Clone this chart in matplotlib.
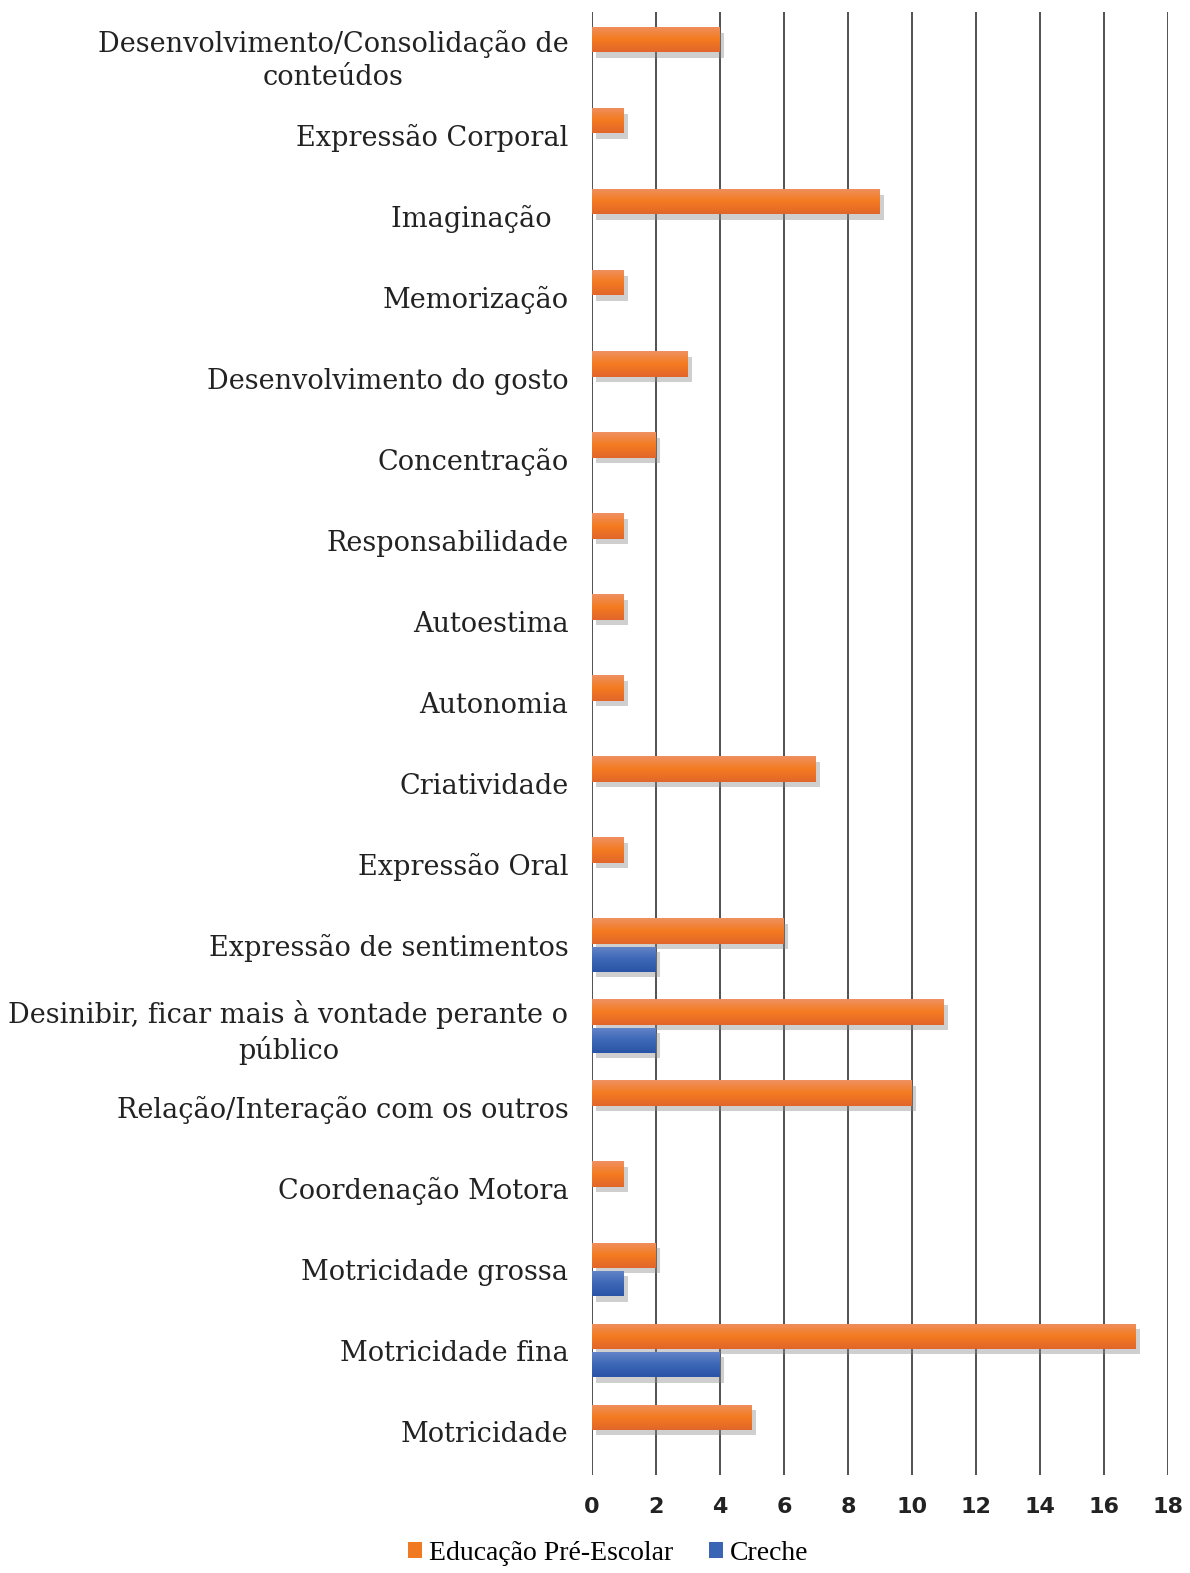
import numpy as np
import matplotlib.pyplot as plt
import matplotlib.transforms as mtransforms
from matplotlib import patheffects as pe
from matplotlib.colors import LinearSegmentedColormap
from matplotlib.patches import Patch

categories = [
    "Desenvolvimento/Consolidação de\nconteúdos",
    "Expressão Corporal",
    "Imaginação  ",
    "Memorização",
    "Desenvolvimento do gosto",
    "Concentração",
    "Responsabilidade",
    "Autoestima",
    "Autonomia",
    "Criatividade",
    "Expressão Oral",
    "Expressão de sentimentos",
    "Desinibir, ficar mais à vontade perante o\npúblico",
    "Relação/Interação com os outros",
    "Coordenação Motora",
    "Motricidade grossa",
    "Motricidade fina",
    "Motricidade",
]
pre_escolar = [4, 1, 9, 1, 3, 2, 1, 1, 1, 7, 1, 6, 11, 10, 1, 2, 17, 5]
creche = [0, 0, 0, 0, 0, 0, 0, 0, 0, 0, 0, 2, 2, 0, 0, 1, 4, 0]
x_ticks = [0, 2, 4, 6, 8, 10, 12, 14, 16, 18]

series = [
    ("Educação Pré-Escolar", pre_escolar, "#F07A22", ["#EF9060", "#F47B20", "#E2662A"]),
    ("Creche", creche, "#3A64B4", ["#6585CA", "#3D68B6", "#2A55A6"]),
]

fig = plt.figure(figsize=(11.9, 15.73), dpi=100)
ax = fig.add_axes([0.4975, 0.0623, 0.4840, 0.9301])

y = np.arange(len(categories))
bar_h = 0.31
offsets = [-0.175, 0.175]

shadow = [pe.SimplePatchShadow(offset=(3, -4), shadow_rgbFace="#888888", alpha=0.4), pe.Normal()]
for (name, vals, col, grad), off in zip(series, offsets):
    bars = ax.barh(y + off, vals, height=bar_h, color=col, zorder=3, path_effects=shadow)
    cmap = LinearSegmentedColormap.from_list(name, grad)
    # vertical gradient on each bar, like the office-style bevel
    for rect in bars:
        if rect.get_width() <= 0:
            continue
        x0, y0 = rect.get_x(), rect.get_y()
        im = ax.imshow(np.linspace(0, 1, 50).reshape(-1, 1), cmap=cmap, aspect="auto",
                       extent=(x0, x0 + rect.get_width(), y0 + rect.get_height(), y0),
                       zorder=4, interpolation="bilinear")
        im.set_clip_path(rect)

ax.set_xlim(0, 18)
ax.set_ylim(17.54, -0.52)
ax.set_xticks(x_ticks)
ax.set_yticks(y)
ax.set_yticklabels(categories, family="DejaVu Serif", fontsize=19.5, color="#222222")
lift = mtransforms.ScaledTranslation(0, 5 / 100, fig.dpi_scale_trans)
for lab in ax.get_yticklabels():
    lab.set_multialignment("center")
    lab.set_linespacing(1.3)
    if "\n" in lab.get_text():
        lab.set_transform(lab.get_transform() + lift)
ax.tick_params(axis="y", length=0, pad=17)
ax.tick_params(axis="x", length=0, pad=16, labelsize=16, labelcolor="#222222")
for lab in ax.get_xticklabels():
    lab.set_fontweight("bold")

ax.grid(axis="x", color="#222222", linewidth=1.1, zorder=1)
ax.grid(axis="y", visible=False)
for s in ["top", "right", "bottom", "left"]:
    ax.spines[s].set_visible(False)

handles = [Patch(facecolor=s[2]) for s in series]
fig.legend(handles=handles, labels=[s[0] for s in series], loc="center",
           bbox_to_anchor=(0.511, 0.0127), ncol=2, frameon=False,
           prop={"family": "Liberation Serif", "size": 20},
           handlelength=0.5, handleheight=0.5, handletextpad=0.25, columnspacing=1.3)

fig.savefig("out.png", dpi=100)
